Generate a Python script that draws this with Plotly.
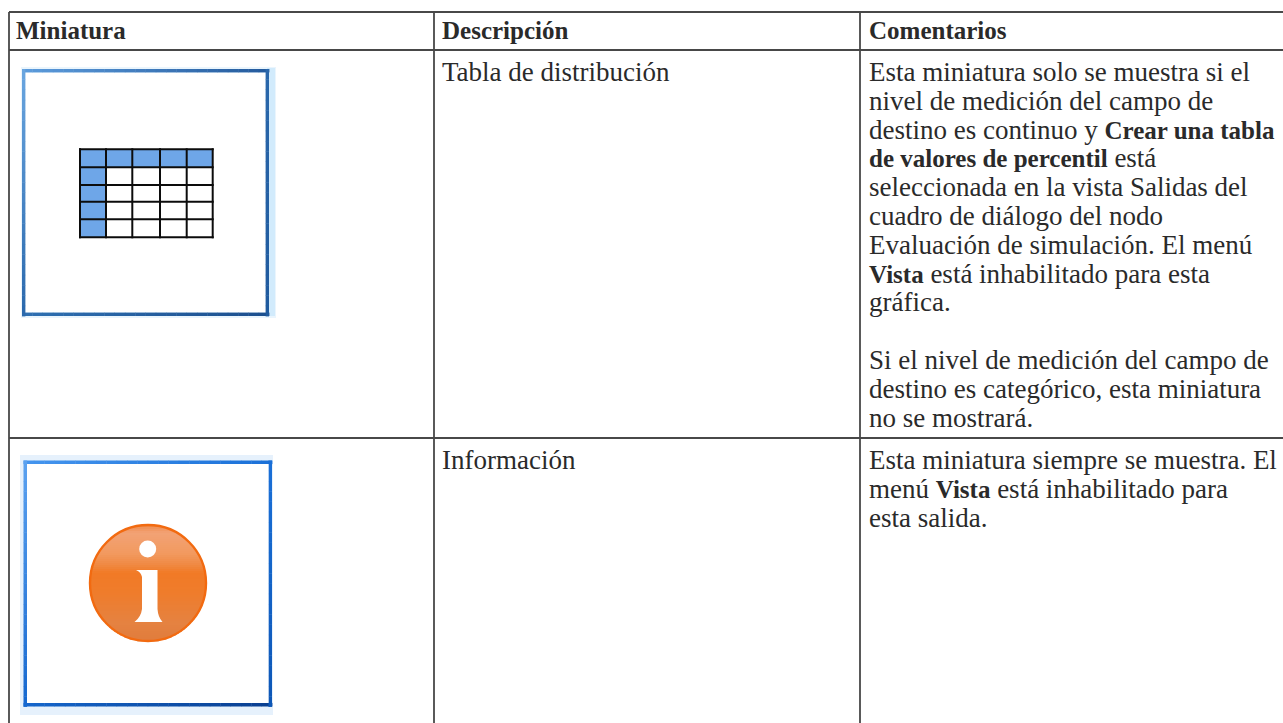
import plotly.graph_objects as go

# ---- table content ----
headers = ["Miniatura", "Descripción", "Comentarios"]
row1_description = "Tabla de distribución"
row1_comments = [
    ["Esta miniatura solo se muestra si el"],
    ["nivel de medición del campo de"],
    ["destino es continuo y ", "*Crear una tabla"],
    ["*de valores de percentil", " está"],
    ["seleccionada en la vista Salidas del"],
    ["cuadro de diálogo del nodo"],
    ["Evaluación de simulación. El menú"],
    ["*Vista", " está inhabilitado para esta"],
    ["gráfica."],
    [],
    ["Si el nivel de medición del campo de"],
    ["destino es categórico, esta miniatura"],
    ["no se mostrará."],
]
row2_description = "Información"
row2_comments = [
    ["Esta miniatura siempre se muestra. El"],
    ["menú ", "*Vista", " está inhabilitado para"],
    ["esta salida."],
]

# ---- page geometry (pixels of the page) ----
W, H = 1283, 723
table_left, col2, col3 = 9, 434, 860
rule_top, rule_head, rule_row = 12, 50, 438
text_x = [14, 440, 866.5]
head_y = 30
first_y = [72, 460]
pitch = 28.8
FONT = "Liberation Serif"
SIZE = 27
BOLD_SIZE = 25
INK = "#2a2a2a"
RULE = "#484848"

# thumbnail 1: small grid
grid_x = [80, 106, 132.3, 160, 186.7, 212.7]
grid_y = [149.3, 167.3, 185, 201.7, 219.3, 237.3]
grid_fill = [
    [1, 1, 1, 1, 1],
    [1, 0, 0, 0, 0],
    [1, 0, 0, 0, 0],
    [1, 0, 0, 0, 0],
    [1, 0, 0, 0, 0],
]

fig = go.Figure()


def lerp(c1, c2, t):
    a = [int(c1[i:i + 2], 16) for i in (1, 3, 5)]
    b = [int(c2[i:i + 2], 16) for i in (1, 3, 5)]
    return "#%02x%02x%02x" % tuple(round(p + (q - p) * t) for p, q in zip(a, b))


def strip(x0, x1, y0, y1, c0, c1, vertical):
    """A small gradient bar, divided into short pieces."""
    n = 24
    for i in range(n):
        t0, t1 = i / n, (i + 1) / n
        col = lerp(c0, c1, (t0 + t1) / 2)
        if vertical:
            a, b = y0 + (y1 - y0) * t0, y0 + (y1 - y0) * t1 + 0.4
            fig.add_shape(type="rect", x0=x0, x1=x1, y0=a, y1=b, fillcolor=col, line_width=0, layer="below")
        else:
            a, b = x0 + (x1 - x0) * t0, x0 + (x1 - x0) * t1 + 0.4
            fig.add_shape(type="rect", x0=a, x1=b, y0=y0, y1=y1, fillcolor=col, line_width=0, layer="below")


def frame(l, r, t, b, w, top, bottom, left, right):
    strip(l, r, t, t + w, top[0], top[1], False)
    strip(l, r, b - w, b, bottom[0], bottom[1], False)
    strip(l, l + w, t, b, left[0], left[1], True)
    strip(r - w, r, t, b, right[0], right[1], True)


# glows behind the frames
fig.add_shape(type="rect", x0=21, x1=276, y0=67, y1=318, fillcolor="#eaf5fd", line_width=0, layer="below")
fig.add_shape(type="rect", x0=267, x1=275, y0=68, y1=316, fillcolor="#d2ebfc", line_width=0, layer="below")
fig.add_shape(type="rect", x0=25, x1=267, y0=73, y1=312, fillcolor="#ffffff", line_width=0, layer="below")
fig.add_shape(type="rect", x0=20, x1=273, y0=455, y1=715, fillcolor="#e6f1fc", line_width=0, layer="below")

frame(22, 269, 69, 316, 3.4,
      ("#5d9cdc", "#245a9c"), ("#2f70b2", "#1c4f8e"),
      ("#6aa6e0", "#2a68ac"), ("#2a67ab", "#1f5a9e"))
frame(23.5, 272, 460.5, 706.5, 3.6,
      ("#4595ee", "#1a70d8"), ("#1566cc", "#0a3f90"),
      ("#5ba2f0", "#1567cf"), ("#1a70d8", "#0d56b6"))
fig.add_shape(type="rect", x0=27, x1=268.5, y0=464, y1=703, fillcolor="#ffffff", line_width=0, layer="below")

# small table in the first thumbnail
fig.add_trace(go.Heatmap(
    x=grid_x, y=grid_y, z=grid_fill, zmin=0, zmax=1, showscale=False, hoverinfo="skip",
    colorscale=[[0, "#ffffff"], [1, "#6ea6e8"]],
))
grid_line_x, grid_line_y = [], []
for gx in grid_x:
    grid_line_x += [gx, gx, None]
    grid_line_y += [grid_y[0] - 1, grid_y[-1] + 1, None]
for gy in grid_y:
    grid_line_x += [grid_x[0] - 1, grid_x[-1] + 1, None]
    grid_line_y += [gy, gy, None]
fig.add_trace(go.Scatter(x=grid_line_x, y=grid_line_y, mode="lines",
                         line=dict(color="#0c0c0c", width=2), hoverinfo="skip", showlegend=False))

# orange disc in the second thumbnail
cx, cy, rad = 148, 583, 58
stops = [(-58, "#ef8a4a"), (-50, "#f2a275"), (-30, "#f29a60"), (-20, "#f08c48"),
         (-10, "#f17a26"), (10, "#ef7c2b"), (40, "#e58241"), (58, "#e07c3c")]


def disc_colour(d):
    for (a, ca), (b, cb) in zip(stops, stops[1:]):
        if a <= d <= b:
            return lerp(ca, cb, (d - a) / (b - a))
    return stops[-1][1]


d = -rad
while d < rad:
    half = (rad ** 2 - (d + 1) ** 2) ** 0.5
    fig.add_shape(type="rect", x0=cx - half, x1=cx + half, y0=cy + d, y1=cy + d + 2.4,
                  fillcolor=disc_colour(d + 1), line_width=0)
    d += 2
fig.add_shape(type="circle", x0=cx - rad, x1=cx + rad, y0=cy - rad, y1=cy + rad,
              line=dict(color="#f26a10", width=2.4))
fig.add_shape(type="circle", x0=139.2, x1=156.2, y0=540.5, y1=557.5, fillcolor="#ffffff", line_width=0)
fig.add_shape(type="path",
              path="M136,570 L157.5,570 L157.5,609 Q158,617 162.5,622 L134.5,622 Q141,617 142,609 L142,577 Q141,572 136,570 Z",
              fillcolor="#ffffff", line_width=0)

# table rules
for y in (rule_top, rule_head, rule_row):
    fig.add_shape(type="line", x0=table_left, x1=W, y0=y, y1=y, line=dict(color=RULE, width=1.8))
for x in (table_left, col2, col3):
    fig.add_shape(type="line", x0=x, x1=x, y0=rule_top, y1=H, line=dict(color=RULE, width=1.8))


def markup(parts):
    out = ""
    for p in parts:
        if p.startswith("*"):
            out += '<b><span style="font-size:%dpx">%s</span></b>' % (BOLD_SIZE, p[1:])
        else:
            out += p
    return out


def put(x, y, text, size=SIZE):
    fig.add_annotation(x=x, y=y, text=text, showarrow=False, xanchor="left", yanchor="middle",
                       font=dict(family=FONT, size=size, color=INK), align="left")


for x, h in zip(text_x, headers):
    put(x, head_y, "<b>" + h + "</b>", BOLD_SIZE)
put(text_x[1], first_y[0], row1_description)
put(text_x[1], first_y[1], row2_description)
for i, parts in enumerate(row1_comments):
    if parts:
        put(text_x[2], first_y[0] + i * pitch, markup(parts))
for i, parts in enumerate(row2_comments):
    put(text_x[2], first_y[1] + i * pitch, markup(parts))

fig.update_layout(
    width=W, height=H, margin=dict(l=0, r=0, t=0, b=0), showlegend=False,
    paper_bgcolor="white", plot_bgcolor="white",
    xaxis=dict(range=[0, W], visible=False, fixedrange=True),
    yaxis=dict(range=[H, 0], visible=False, fixedrange=True),
)
fig.write_html("out.html", config={"displayModeBar": False},
               post_script="document.body.style.margin='0';document.documentElement.style.overflow='hidden';")
